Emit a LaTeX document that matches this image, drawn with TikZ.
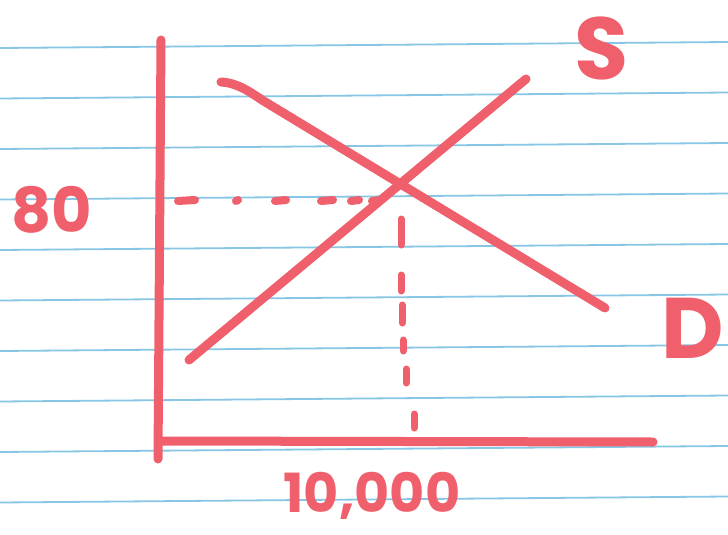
\documentclass[tikz,border=0pt]{standalone}
\usepackage{fontspec}
\setmainfont{Poppins}
\definecolor{marker}{RGB}{240,96,108}
\definecolor{rule}{RGB}{135,198,228}
\tikzset{
	pen/.style={draw=marker, line width=9pt, line cap=round, line join=round},
	dot/.style={draw=marker, line width=8pt, line cap=round},
	hand/.style={text=marker, inner sep=0pt}
}
\begin{document}
\begin{tikzpicture}[x=1pt, y=-1pt]
	\useasboundingbox[fill=white] (0,0) rectangle (728,535);
	% 横线纸：每行间距约 50.5，右端略高
	\foreach \k in {0,...,9}
		\draw[rule, line width=1.8pt] (0, 48+50.5*\k) -- (728, 42+50.5*\k);

	% 坐标轴
	\coordinate (ytop) at (161,40);
	\coordinate (ybot) at (158,459);
	\coordinate (xleft) at (160,441);
	\coordinate (xright) at (653,442);
	\draw[pen] (ytop) -- (ybot);
	\draw[pen] (xleft) -- (xright);

	% 供给 S 与需求 D
	\coordinate (s0) at (189,360);
	\coordinate (s1) at (526,79);
	\draw[pen] (s0) -- (s1);
	\coordinate (d0) at (221,82);
	\coordinate (d1) at (262,100);
	\coordinate (d2) at (605,308);
	\draw[pen] (d0) .. controls (238,83) and (250,92) .. (d1) -- (d2);

	% 均衡点虚线：价格 80（横向）、数量 10,000（纵向）
	\foreach \a/\b in {178/195, 236/238, 275/286, 321/333, 351/359, 372/381}
		\draw[dot] (\a,201) -- (\b,200);
	\foreach \x/\ya/\yb in {401/219/245, 401/275/291, 402/305/323, 403/340/351, 406/369/383, 414/414/428}
		\draw[dot, line width=7pt] (\x,\ya) -- (\x,\yb);

	% 标注
	\node[hand, font=\bfseries\fontsize{62}{62}\selectfont] (p80) at (52,210) {80};
	\node[hand, font=\bfseries\fontsize{88}{88}\selectfont] (labS) at (602,48) {S};
	\node[hand, font=\bfseries\fontsize{86}{86}\selectfont] (labD) at (693,328) {D};
	\node[hand, font=\bfseries\fontsize{54}{54}\selectfont] (q10k) at (372,496) {10,000};
\end{tikzpicture}
\end{document}
